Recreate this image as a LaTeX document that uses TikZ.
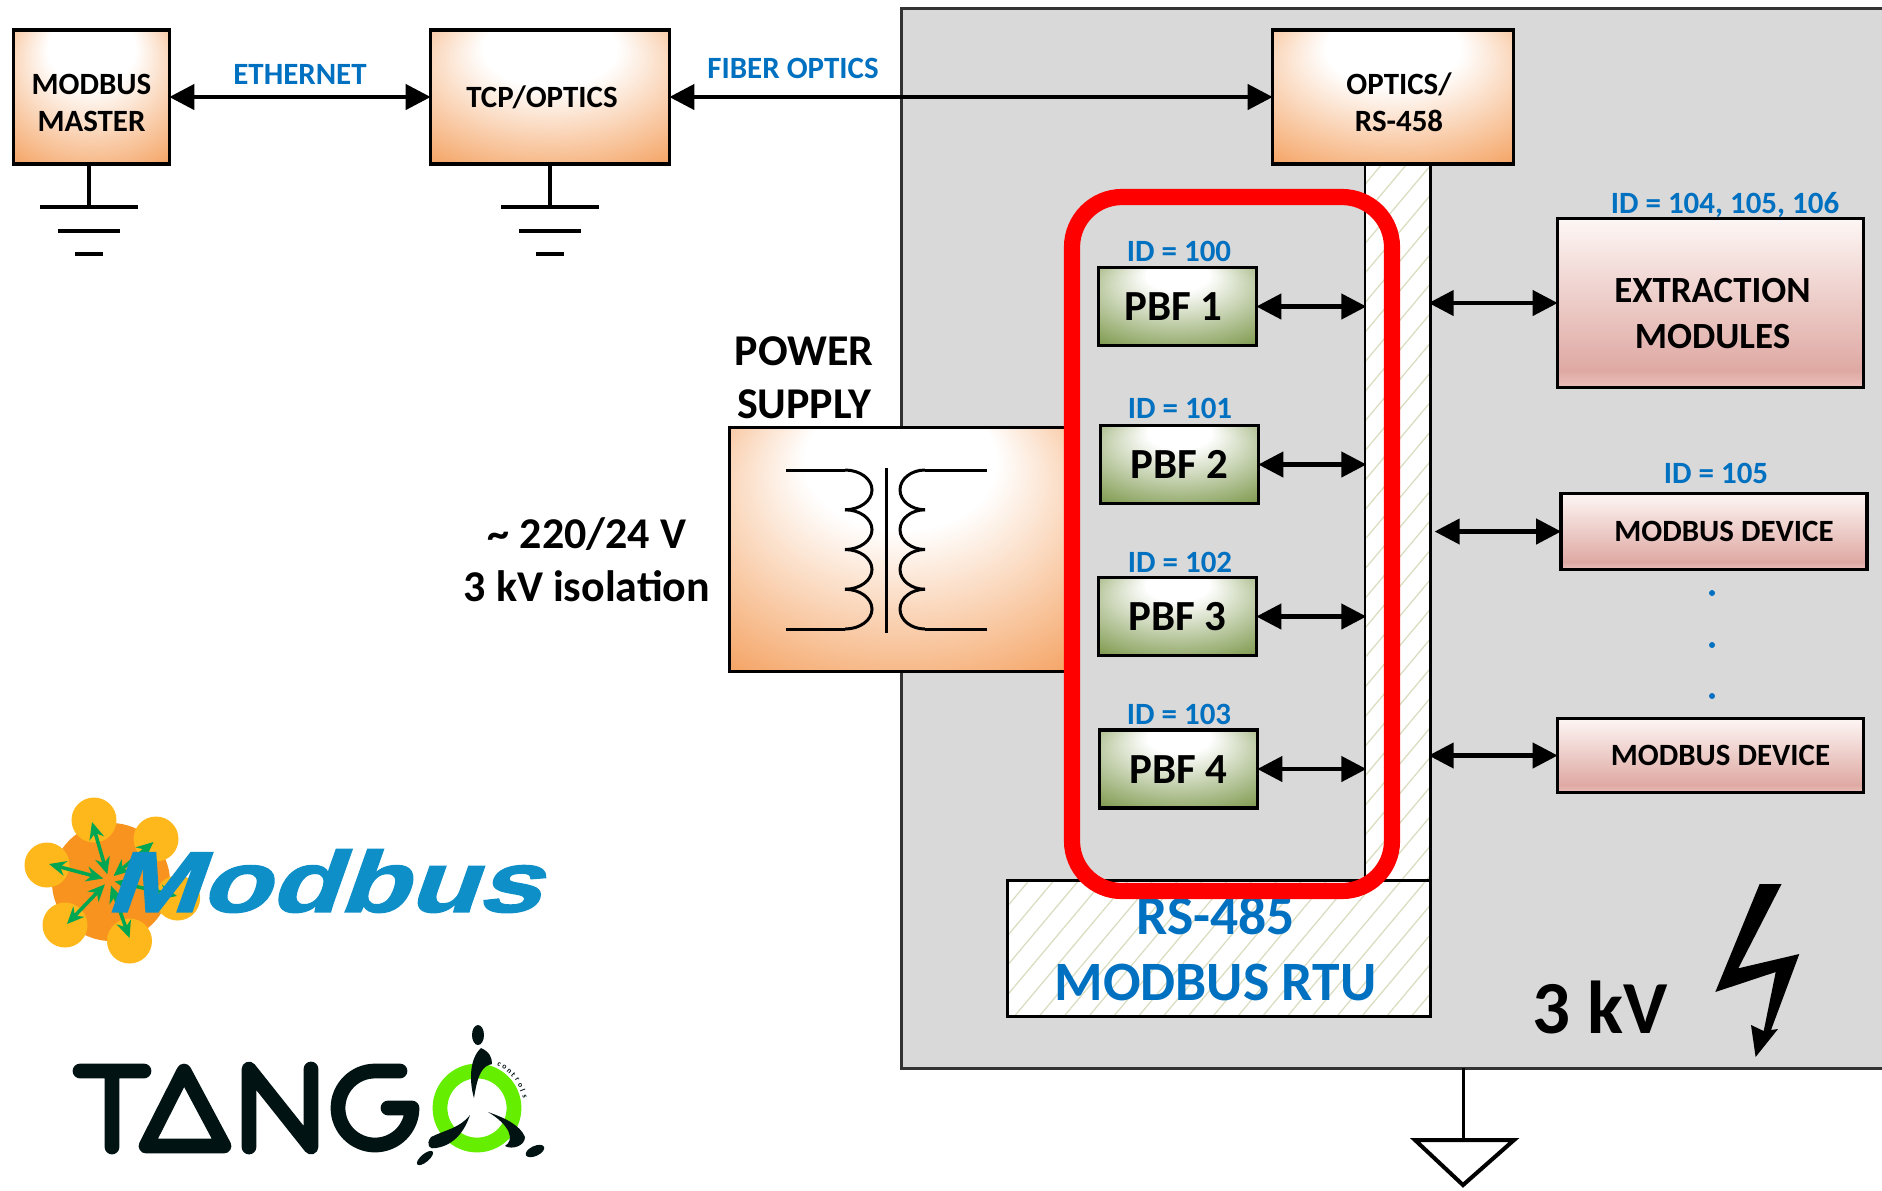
\documentclass[tikz,border=0pt]{standalone}
\usepackage{fontspec}
\setmainfont{Carlito}
\newfontfamily\logofont[BoldFeatures={FakeBold=1.5}]{Liberation Sans}
\usetikzlibrary{arrows.meta,patterns.meta,calc}
\definecolor{idblue}{HTML}{0070C0}
\definecolor{hvgrey}{HTML}{D9D9D9}
\definecolor{hatchcol}{HTML}{DADCC0}
\definecolor{boxorange}{HTML}{F4A160}
\definecolor{boxgreen}{HTML}{7A9648}
\definecolor{pinktop}{HTML}{FDF6F4}
\definecolor{pinkmid}{HTML}{DFA9A3}
\definecolor{pinkbot}{HTML}{EBC0BB}
\definecolor{logoblue}{HTML}{0F8FC8}
\definecolor{logodark}{HTML}{021314}
\definecolor{logoorange}{HTML}{F7931E}
\definecolor{logoyellow}{HTML}{FFB81C}
\definecolor{logogreen}{HTML}{00A651}
\definecolor{logoring}{HTML}{66EE00}
\pgfdeclareradialshading{orangeglow}{\pgfpoint{0bp}{25bp}}{color(0bp)=(white); color(14bp)=(white); color(40bp)=(boxorange); color(50bp)=(boxorange)}
\pgfdeclareradialshading{greenglow}{\pgfpoint{0bp}{25bp}}{color(0bp)=(white); color(10bp)=(white); color(40bp)=(boxgreen); color(50bp)=(boxgreen)}
\pgfdeclareverticalshading{pinkfade}{100bp}{color(0bp)=(pinkbot); color(25bp)=(pinkbot); color(30bp)=(pinkmid); color(75bp)=(pinktop); color(100bp)=(pinktop)}
\begin{document}
\begin{tikzpicture}[x=0.01cm, y=-0.01cm, line width=0.85pt,
        orange box/.style={rectangle, draw, line width=1pt, shading=orangeglow, font=\fontsize{8.8}{10.6}\selectfont\bfseries, align=center, inner sep=0pt},
        pbf box/.style={rectangle, draw, line width=1pt, shading=greenglow, minimum width=1.58cm, minimum height=0.78cm, inner sep=0pt, font=\fontsize{12.2}{14}\selectfont\bfseries},
        pink box/.style={rectangle, draw, line width=1pt, shading=pinkfade, minimum width=3.06cm, inner sep=0pt, align=center, font=\fontsize{8.8}{10}\selectfont\bfseries},
        bus box/.style={rectangle, draw, inner sep=0pt, preaction={fill=white}, pattern={Lines[angle=50,distance=0.19cm,line width=0.35pt]}, pattern color=hatchcol},
        blue label/.style={text=idblue, inner sep=0pt, font=\fontsize{8.8}{10}\selectfont\bfseries},
        black label/.style={inner sep=0pt, align=center, font=\fontsize{12.5}{15}\selectfont\bfseries},
        link/.style={<->, >={Triangle[length=0.25cm,width=0.25cm]}, line width=1.2pt, shorten <=-0.02cm, shorten >=-0.02cm},
        gnd bar/.style={line width=1.15pt}]
    \useasboundingbox (0,0) rectangle (1882,1190);
    % 3 kV area
    \fill[hvgrey] (901,8) rectangle (1882,1068);
    \draw[black!80] (1882,8) -- (901,8) -- (901,1068) -- (1882,1068);
    % bus
    \node[bus box, minimum width=0.65cm, minimum height=7.17cm] (busv) at (1397.5,522.5) {};
    \node[bus box, minimum width=4.22cm, minimum height=1.35cm, align=center, text=idblue, font=\fontsize{15.8}{18.8}\selectfont\bfseries] (bush) at (1219,948.5) {\hspace*{-0.07cm}RS-485\\\hspace*{-0.07cm}MODBUS RTU};
    % top row
    \node[orange box, minimum width=1.56cm, minimum height=1.34cm] (master) at (91.5,97) {\rule{0pt}{9pt}MODBUS\\MASTER};
    \node[orange box, minimum width=2.39cm, minimum height=1.34cm] (tcp) at (550,97) {\hspace*{-0.16cm}TCP/OPTICS};
    \node[orange box, minimum width=2.41cm, minimum height=1.34cm] (optics) at (1393,97) {\rule{0pt}{9pt}\hspace*{0.12cm}OPTICS/\\\hspace*{0.12cm}RS-458};
    \draw[link] (master) -- (tcp) node[midway, above=0.1cm, blue label] (ethlabel) {ETHERNET};
    \draw[link] (tcp) -- (optics);
    \node[blue label] (fiberlabel) at (793,68) {FIBER OPTICS};
    % grounds
    \coordinate (gnd1) at (89,207);
    \coordinate (gnd2) at (550,207);
    \draw[gnd bar] (master.south -| gnd1) -- (gnd1);
    \draw[gnd bar] (tcp) ++(0,67) -- (gnd2);
    \foreach \g in {gnd1,gnd2} {
        \draw[gnd bar] (\g) ++(-49,0) -- ++(98,0);
        \draw[gnd bar] (\g) ++(-31,24) -- ++(62,0);
        \draw[gnd bar] (\g) ++(-14,47) -- ++(28,0);
    }
    % power supply
    \node[rectangle, draw, line width=1pt, shading=orangeglow, minimum width=3.42cm, minimum height=2.44cm] (psu) at (900.5,549.5) {};
    \draw (886,468) -- (886,633);
    \draw (786,470) -- (845,470);
    \draw (786,629) -- (845,629);
    \draw (987,470) -- (925,470);
    \draw (987,629) -- (925,629);
    \foreach \y in {470,509.75,549.5,589.25} {
        \draw (845,\y) arc[start angle=-90, end angle=90, x radius=27, y radius=19.875];
        \draw (925,\y) arc[start angle=-90, end angle=-270, x radius=25, y radius=19.875];
    }
    \node[black label] (psulabel) at (804,378) {POWER\\SUPPLY};
    \node[black label] (isolabel) at (587,560) {\textasciitilde{} 220/24 V\\3 kV isolation};
    % PBF modules
    \node[pbf box] (pbf1) at (1177.5,306.5) {\rule{0pt}{8pt}\hspace*{-0.08cm}PBF 1};
    \node[pbf box] (pbf2) at (1179.5,464.5) {\rule{0pt}{8pt}PBF 2};
    \node[pbf box] (pbf3) at (1177.5,616.5) {\rule{0pt}{8pt}PBF 3};
    \node[pbf box] (pbf4) at (1178.5,769) {\rule{0pt}{8pt}PBF 4};
    \node[blue label] (id100) at (1179,251) {ID = 100};
    \node[blue label] (id101) at (1180,408) {ID = 101};
    \node[blue label] (id102) at (1180,562) {ID = 102};
    \node[blue label] (id103) at (1179,714) {ID = 103};
    \foreach \p in {pbf1,pbf2,pbf3,pbf4}
        \draw[link] (\p) -- (\p -| busv.west);
    % right column
    \node[pink box, minimum height=1.69cm, font=\fontsize{10.5}{13}\selectfont\bfseries] (extract) at (1710.5,303) {\rule{0pt}{13pt}\hspace*{0.04cm}EXTRACTION\\\hspace*{0.04cm}MODULES};
    \node[pink box, minimum height=0.76cm] (dev1) at (1714,531.5) {\hspace*{0.2cm}MODBUS DEVICE};
    \node[pink box, minimum height=0.74cm] (dev2) at (1710.5,755.5) {\hspace*{0.2cm}MODBUS DEVICE};
    \node[blue label] (id104) at (1725,205) {ID = 104, 105, 106};
    \node[blue label] (id105) at (1716,473) {ID = 105};
    \draw[link] (busv.east |- extract) -- (extract);
    \draw[link, shorten <=0.04cm] (busv.east |- dev1) -- (dev1);
    \draw[link] (busv.east |- dev2) -- (dev2);
    \foreach \y in {593,645,696}
        \fill[idblue] (1712,\y) circle[radius=3];
    % red frame
    \draw[red, line width=4.6pt, rounded corners=0.5cm] (1072,197) rectangle (1392,891);
    % high voltage mark
    \node[inner sep=0pt, font=\fontsize{21.3}{24}\selectfont\bfseries] (hvlabel) at (1600,1007) {3 kV};
    \fill (1759.6,884) -- (1781.5,884) -- (1738.3,968.3) -- (1799.3,954) -- (1771,1030) -- (1778,1029)
        -- (1755.6,1057) -- (1751,1025) -- (1763.7,1031) -- (1775.7,972) -- (1715.3,992) -- cycle;
    \coordinate (gnd3) at (1463,1140);
    \draw (1463,1068) -- (gnd3);
    \draw[line width=1.15pt, line join=miter] (1415,1140) -- (1514,1140) -- (1463,1185) -- cycle;
    % modbus logo
    \fill[logoorange] (111,882) circle[radius=59];
    \foreach \xc/\yc in {94/820,156/839,47/865,65/925,129.5/941,177.6/898}
        \fill[logoyellow] (\xc,\yc) circle[radius=22.5];
    \foreach \xe/\ye in {92/822,153.5/842,49/864,67/924,129.5/938,177/896}
        \draw[{Stealth[length=0.17cm,width=0.15cm]}-{Stealth[length=0.17cm,width=0.15cm]}, logogreen, line width=1pt, shorten >=0.06cm] (\xe,\ye) -- (109,880);
    \node[inner sep=0pt, text=logoblue, xscale=1.31, xslant=0.27, transform shape, font=\fontsize{24.6}{26}\logofont\bfseries] (modbuslogo) at (333,881) {Modbus};
    % tango logo
    \draw[logodark, line width=4.2pt, line cap=round, line join=round]
        (80,1071) -- (144,1071) (112,1071) -- (112,1147)
        (184,1071) -- (146,1146) -- (224,1146) -- cycle
        (249,1147) -- (249,1069) -- (311,1147) -- (311,1069)
        (400,1071) -- (375,1071) arc[start angle=-90, end angle=-360, radius=37] -- (388,1108);
    \draw[logoring, line width=4.2pt] (477,1108) circle[radius=37];
    \fill[logodark] (478,1035) ellipse[x radius=6, y radius=10];
    \fill[logodark] (481,1048) .. controls (490,1052) and (492,1058) .. (492,1064) .. controls (483,1066) and (478,1072) .. (474,1098) .. controls (470,1085) and (468,1060) .. (481,1048) -- cycle;
    \fill[logodark] (470,1115) .. controls (460,1128) and (445,1130) .. (431,1137) .. controls (425,1145) and (430,1150) .. (436,1148) .. controls (455,1145) and (465,1130) .. (470,1115) -- cycle;
    \fill[logodark] (488,1112) .. controls (505,1118) and (520,1125) .. (525,1137) .. controls (525,1146) and (512,1150) .. (505,1146) .. controls (515,1140) and (510,1125) .. (488,1112) -- cycle;
    \fill[logodark, rotate around={-50:(425,1158)}] (425,1158) ellipse[x radius=4, y radius=10];
    \fill[logodark, rotate around={-65:(535,1151)}] (535,1151) ellipse[x radius=5, y radius=10];
    \foreach \ch [count=\i] in {c,o,n,t,r,o,l,s}
        \node[inner sep=0pt, text=logodark, rotate={-(-70+7*\i)-90}, font=\fontsize{2.2}{3}\selectfont\bfseries] (ctl\i) at ({477+49*cos(-70+7*\i)},{1108+49*sin(-70+7*\i)}) {\ch};
\end{tikzpicture}
\end{document}
